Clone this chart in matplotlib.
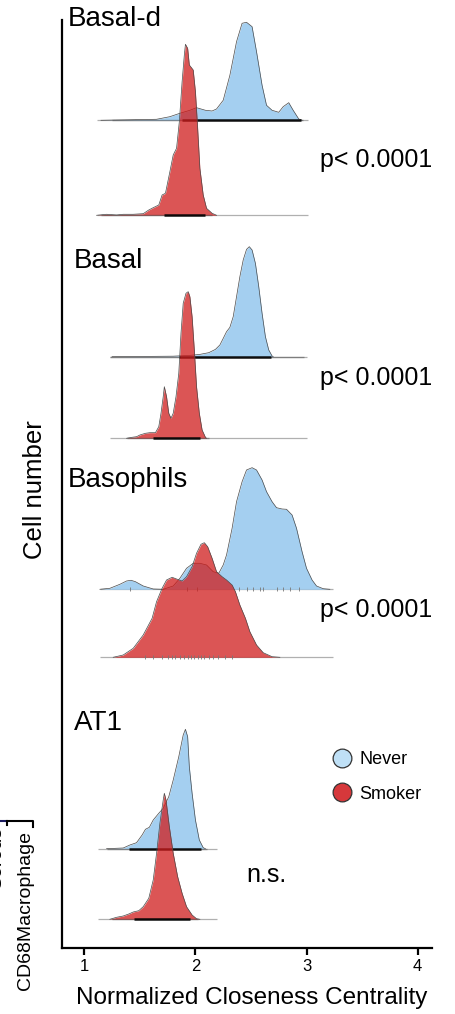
import matplotlib.pyplot as plt
from matplotlib.lines import Line2D

plt.rcParams['font.family'] = ['Liberation Sans', 'DejaVu Sans']

# cell types, top to bottom
cell_types = ["Basal-d", "Basal", "Basophils", "AT1"]
p_labels = ["p< 0.0001", "p< 0.0001", "p< 0.0001", "n.s."]

# density curves (x = closeness centrality, h = density height)
basal_d_never_x = [1.15, 1.40, 1.65, 1.77, 1.86, 1.95, 2.01, 2.09, 2.15, 2.19, 2.25, 2.31, 2.37, 2.42,
                   2.46, 2.51, 2.55, 2.60, 2.64, 2.69, 2.75, 2.79, 2.84, 2.88, 2.93, 2.96]
basal_d_never_h = [0, 0.5, 1, 3.6, 7, 10, 12.6, 10, 9.3, 11.3, 20, 45, 78.6, 97,
                   98, 93.6, 68.6, 35, 15, 10, 8, 13.6, 17.6, 10, 1.3, 0]
basal_d_smoker_x = [1.11, 1.20, 1.29, 1.35, 1.44, 1.53, 1.58, 1.62, 1.67, 1.70, 1.73, 1.77, 1.80, 1.83,
                    1.855, 1.88, 1.90, 1.91, 1.93, 1.945, 1.98, 2.00, 2.02, 2.04, 2.07, 2.10, 2.15, 2.19]
basal_d_smoker_h = [0, 1, 0.3, 1, 1, 1.6, 5.3, 7.6, 10.3, 20.3, 22, 43.6, 60.3, 67,
                    93.6, 133.6, 160.3, 171, 167, 150.3, 145.3, 123.6, 87, 47, 20.3, 7, 2, 0]

basal_never_x = [1.25, 1.80, 1.95, 2.04, 2.12, 2.18, 2.22, 2.25, 2.28, 2.31, 2.34, 2.37, 2.40, 2.43,
                 2.46, 2.485, 2.51, 2.54, 2.57, 2.60, 2.63, 2.66, 2.69, 2.70]
basal_never_h = [0, 0.5, 1.3, 2.3, 4, 7.3, 11.7, 18.3, 25, 29.3, 40, 60, 80, 96.7,
                 107.3, 110, 106.7, 93.3, 70, 43.3, 20, 6.7, 0.7, 0]
basal_smoker_x = [1.38, 1.43, 1.47, 1.50, 1.55, 1.59, 1.64, 1.67, 1.69, 1.71, 1.72, 1.74, 1.76, 1.78,
                  1.80, 1.825, 1.85, 1.87, 1.89, 1.915, 1.935, 1.95, 1.97, 1.99, 2.01, 2.035, 2.06,
                  2.09, 2.10]
basal_smoker_h = [0, 1, 1.6, 3.3, 5, 5.6, 5.6, 11.6, 25, 41.6, 51.6, 41.6, 25, 20,
                  25, 41.6, 65, 105, 135, 145, 146.6, 141.6, 121.6, 88.3, 51.6, 25, 8.3, 1, 0]

basophils_never_x = [1.14, 1.23, 1.32, 1.38, 1.42, 1.46, 1.53, 1.62, 1.71, 1.80, 1.86, 1.92, 1.98,
                     2.04, 2.10, 2.16, 2.21, 2.25, 2.28, 2.33, 2.37, 2.42, 2.46, 2.51, 2.55, 2.60,
                     2.64, 2.69, 2.73, 2.78, 2.82, 2.87, 2.91, 2.96, 3.00, 3.05, 3.09, 3.15, 3.21]
basophils_never_h = [0, 1, 5, 8.3, 9, 7.6, 3.3, 0.3, 0, 3.3, 11, 21, 26,
                     26, 24.3, 17.6, 16, 24.3, 34.3, 61, 87.6, 107.6, 119.3, 121.6, 119.3, 109.3,
                     97.6, 87.6, 81.6, 80.3, 80, 74.3, 61, 37.6, 21, 9.3, 3.3, 0.6, 0]
basophils_smoker_x = [1.26, 1.35, 1.44, 1.53, 1.61, 1.65, 1.70, 1.74, 1.79, 1.83, 1.88, 1.92, 1.97,
                      2.01, 2.05, 2.08, 2.11, 2.15, 2.19, 2.24, 2.28, 2.33, 2.36, 2.40, 2.45, 2.49,
                      2.55, 2.61, 2.69, 2.76]
basophils_smoker_h = [0, 2.3, 9, 22.3, 39, 55.6, 69, 77.3, 80, 78.3, 76.3, 80.6, 90.6,
                      104, 113, 114.6, 110.6, 99, 85.6, 80.6, 77.3, 72.3, 65.6, 52.3, 39, 25.6,
                      12.3, 4.6, 0.6, 0]

at1_never_x = [1.20, 1.35, 1.41, 1.47, 1.52, 1.55, 1.585, 1.62, 1.67, 1.71, 1.76, 1.80, 1.85,
               1.89, 1.91, 1.93, 1.945, 1.97, 2.00, 2.035, 2.07, 2.09]
at1_never_h = [0, 0.7, 3.7, 6, 13.7, 19.4, 21.4, 28.7, 35.4, 40.4, 52, 68.7, 92,
               113.7, 119.4, 112, 82, 55.4, 28.7, 8.7, 1, 0]
at1_smoker_x = [1.23, 1.29, 1.35, 1.40, 1.44, 1.49, 1.53, 1.58, 1.62, 1.65, 1.68, 1.71, 1.72,
                1.735, 1.765, 1.80, 1.84, 1.88, 1.92, 1.97, 2.01, 2.04]
at1_smoker_h = [0, 2, 3.3, 5.3, 7.3, 8.6, 12.6, 21, 39.3, 66, 96, 119.3, 126,
                119.3, 92.6, 66, 42.6, 26, 12.6, 4.3, 0.6, 0]

# range of observed values per cell type
x_range = [(1.11, 3.01), (1.23, 3.00), (1.14, 3.24), (1.12, 2.19)]

# rug: dense and sparse spans (never, smoker) per cell type
rug_dense = [((1.88, 2.95), (1.72, 2.09)),
             ((1.85, 2.68), (1.62, 2.04)),
             (None, None),
             ((1.40, 2.05), (1.45, 1.95))]
rug_sparse = [((1.25, 2.97), (1.15, 2.15)),
              ((1.23, 2.98), (1.38, 2.12)),
              (None, None),
              ((1.20, 2.10), (1.25, 2.02))]
basophils_never_rug = [1.41, 1.92, 2.01, 2.39, 2.46, 2.52, 2.58, 2.61, 2.73, 2.79, 2.85, 2.93]
basophils_smoker_rug = [1.55, 1.62, 1.70, 1.75, 1.79, 1.82, 1.86, 1.90, 1.93, 1.96, 1.99,
                        2.02, 2.05, 2.08, 2.12, 2.16, 2.20, 2.27, 2.33]

curves = [
    ((basal_d_never_x, basal_d_never_h), (basal_d_smoker_x, basal_d_smoker_h)),
    ((basal_never_x, basal_never_h), (basal_smoker_x, basal_smoker_h)),
    ((basophils_never_x, basophils_never_h), (basophils_smoker_x, basophils_smoker_h)),
    ((at1_never_x, at1_never_h), (at1_smoker_x, at1_smoker_h)),
]

# layout: ridge baselines (never, smoker), label and p-value positions
baselines = [(827.7, 732.7), (591.3, 509.7), (358.7, 290.7), (99.3, 28.7)]
label_pos = [(0.853, 922), (0.907, 680), (0.853, 461), (0.907, 218)]
p_pos = [(3.12, 781), (3.12, 563), (3.12, 331), (2.46, 66)]

blue = '#9ccbef'
red = '#d01c1c'

fig = plt.figure(figsize=(4.55, 10.14), dpi=100)
ax = fig.add_axes([0.1363, 0.0651, 0.8125, 0.9152])

for i, name in enumerate(cell_types):
    lo, hi = x_range[i]
    for j, (color, alpha) in enumerate([(blue, 0.92), (red, 0.75)]):
        base = baselines[i][j]
        xs, hs = curves[i][j]
        ys = [base + h for h in hs]
        ax.hlines(base, lo, hi, color='#b0b0b0', lw=0.9, zorder=1 + 3 * j)
        ax.fill_between(xs, base, ys, color=color, alpha=alpha, lw=0, zorder=2 + 3 * j)
        ax.plot(xs, ys, color='#4a4a4a', lw=0.5, zorder=2 + 3 * j)
        if rug_sparse[i][j] is not None:
            ax.hlines(base, *rug_sparse[i][j], color='#555555', lw=1.0, alpha=0.55, zorder=3 + 3 * j)
            ax.hlines(base, *rug_dense[i][j], color='black', lw=1.8, alpha=0.9, zorder=3 + 3 * j)
    ax.text(*label_pos[i], name, fontsize=20, va='baseline', ha='left')
    ax.text(*p_pos[i], p_labels[i], fontsize=18, va='baseline', ha='left')

ax.vlines(basophils_never_rug, baselines[2][0] - 2, baselines[2][0] + 2,
          color='#777777', lw=0.6, zorder=3)
ax.vlines(basophils_smoker_rug, baselines[2][1] - 2, baselines[2][1] + 2,
          color='#777777', lw=0.6, zorder=6)

ax.set_xlim(0.799, 4.127)
ax.set_ylim(0, 928)
ax.set_xticks([1, 2, 3, 4])
ax.set_yticks([])
ax.tick_params(axis='x', length=5, width=1.6, labelsize=12, pad=3)
for side in ['top', 'right']:
    ax.spines[side].set_visible(False)
for side in ['left', 'bottom']:
    ax.spines[side].set_linewidth(1.6)

handles = [Line2D([], [], marker='o', ls='', markersize=13.5, markerfacecolor='#bfe0f6',
                  markeredgecolor='#333333', markeredgewidth=0.9),
           Line2D([], [], marker='o', ls='', markersize=13.5, markerfacecolor='#d6383b',
                  markeredgecolor='#333333', markeredgewidth=0.9)]
ax.legend(handles, ['Never', 'Smoker'], loc='upper left', bbox_to_anchor=(0.731, 0.259),
          bbox_transform=fig.transFigure, frameon=False, fontsize=13, borderpad=0,
          borderaxespad=0, handlelength=1.0, handletextpad=0.5, labelspacing=0.95)

fig.text(35 / 455, 1 - 490 / 1014, 'Cell number', rotation=90, ha='center', va='center',
         fontsize=18.5)
fig.text(252 / 455, 1 - 998 / 1014, 'Normalized Closeness Centrality', ha='center', va='center',
         fontsize=17.5)

# cropped neighbouring panel labels on the left edge
fig.text(26 / 455, 1 - 911 / 1014, 'CD68Macrophage', rotation=90, ha='center', va='center',
         fontsize=14)
fig.text(-3 / 455, 1 - 858 / 1014, 'Serous', rotation=90, ha='center', va='center', fontsize=14)
y0 = 1 - 821 / 1014
y1 = 1 - 827 / 1014
fig.add_artist(Line2D([0, 5 / 455], [y0, y0], color='#1a1a5e', lw=1.5))
fig.add_artist(Line2D([7 / 455, 33 / 455, 33 / 455], [y0, y0, y1], color='black', lw=1.5))
fig.add_artist(Line2D([7 / 455, 7 / 455], [y0, y1 + 0.002], color='black', lw=1.5))

fig.savefig('out.png', dpi=100)
